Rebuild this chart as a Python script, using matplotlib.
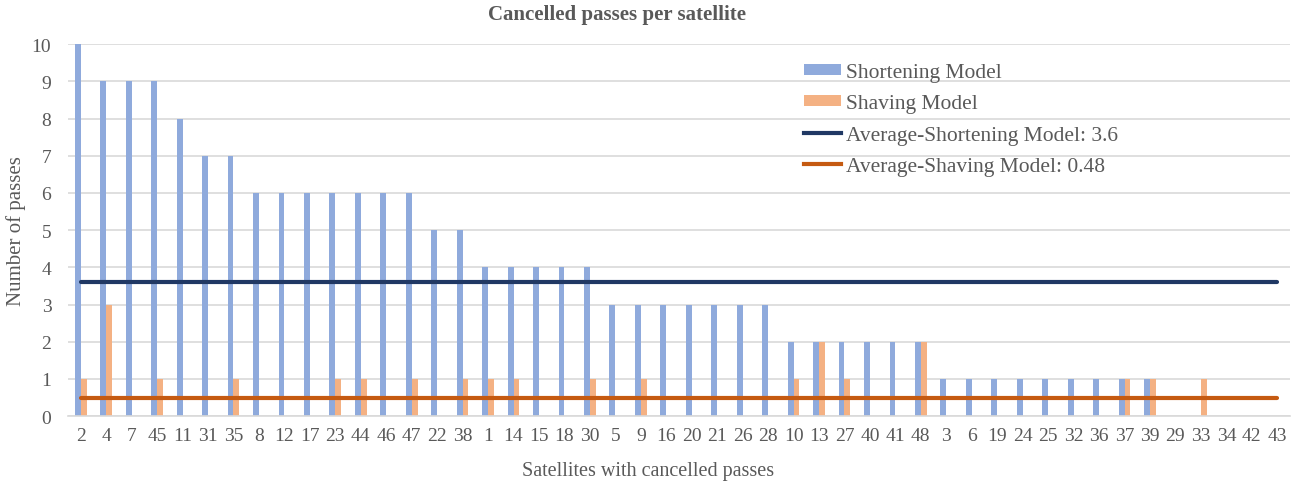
import matplotlib
matplotlib.use("Agg")
import matplotlib.pyplot as plt
from matplotlib.patches import Patch
from matplotlib.lines import Line2D
import numpy as np

satellites = ["2", "4", "7", "45", "11", "31", "35", "8", "12", "17", "23", "44",
              "46", "47", "22", "38", "1", "14", "15", "18", "30", "5", "9", "16",
              "20", "21", "26", "28", "10", "13", "27", "40", "41", "48", "3", "6",
              "19", "24", "25", "32", "36", "37", "39", "29", "33", "34", "42", "43"]
shortening = [10, 9, 9, 9, 8, 7, 7, 6, 6, 6, 6, 6, 6, 6, 5, 5, 4, 4, 4, 4, 4, 3, 3, 3,
              3, 3, 3, 3, 2, 2, 2, 2, 2, 2, 1, 1, 1, 1, 1, 1, 1, 1, 1, 0, 0, 0, 0, 0]
shaving = [1, 3, 0, 1, 0, 0, 1, 0, 0, 0, 1, 1, 0, 1, 0, 1, 1, 1, 0, 0, 1, 0, 1, 0,
           0, 0, 0, 0, 1, 2, 1, 0, 0, 2, 0, 0, 0, 0, 0, 0, 0, 1, 1, 0, 1, 0, 0, 0]
avg_shortening = 3.6
avg_shaving = 0.48

plt.rcParams["font.family"] = ["Liberation Serif", "DejaVu Serif"]
text_color = "#595959"
blue = "#8faadc"
orange = "#f4b183"
navy = "#203864"
rust = "#c55a11"

fig = plt.figure(figsize=(13, 4.85), dpi=100)
ax = fig.add_axes([0.0523, 0.140, 0.940, 0.767])

x = np.arange(len(satellites))
w = 0.23
ax.bar(x - w / 2, shortening, width=w, color=blue, zorder=2)
ax.bar(x + w / 2, shaving, width=w, color=orange, zorder=2)
ax.plot([x[0], x[-1]], [avg_shortening] * 2, color=navy, lw=3, solid_capstyle="round", zorder=3)
ax.plot([x[0], x[-1]], [avg_shaving] * 2, color=rust, lw=3, solid_capstyle="round", zorder=3)

ax.set_xlim(-0.5, len(satellites) - 0.5)
ax.set_ylim(0, 10)
ax.set_yticks(range(0, 11))
ax.set_xticks(x)
ax.set_xticklabels(satellites)
ax.grid(axis="y", color="#d9d9d9", lw=1.2, zorder=0)
ax.set_axisbelow(True)
for s in ["left", "right", "top"]:
    ax.spines[s].set_visible(False)
ax.spines["bottom"].set_color("#d9d9d9")
ax.spines["bottom"].set_linewidth(1.2)
ax.tick_params(axis="both", length=0, labelsize=14, colors=text_color)
ax.tick_params(axis="x", pad=8)
ax.tick_params(axis="y", pad=12)

fig.text(617 / 1300, 1 - 15 / 485, "Cancelled passes per satellite", fontsize=15,
         fontweight="bold", color=text_color, ha="center", va="center")
ax.set_xlabel("Satellites with cancelled passes", fontsize=14.5, color=text_color)
ax.xaxis.set_label_coords(0.475, -0.12)
ax.set_ylabel("Number of passes", fontsize=15, color=text_color)
ax.yaxis.set_label_coords(-0.034, 0.5)

handles = [
    Patch(facecolor=blue, edgecolor="none"),
    Patch(facecolor=orange, edgecolor="none"),
    Line2D([0], [0], color=navy, lw=3),
    Line2D([0], [0], color=rust, lw=3),
]
labels = ["Shortening Model", "Shaving Model",
          "Average-Shortening Model: 3.6", "Average-Shaving Model: 0.48"]
leg = ax.legend(handles, labels, loc="upper left", bbox_to_anchor=(0.602, 0.949),
                frameon=False, fontsize=15.5, labelcolor=text_color,
                handlelength=1.75, handleheight=0.4, handletextpad=0.2,
                labelspacing=0.57, borderaxespad=0, borderpad=0)

fig.savefig("out.png", dpi=100)
